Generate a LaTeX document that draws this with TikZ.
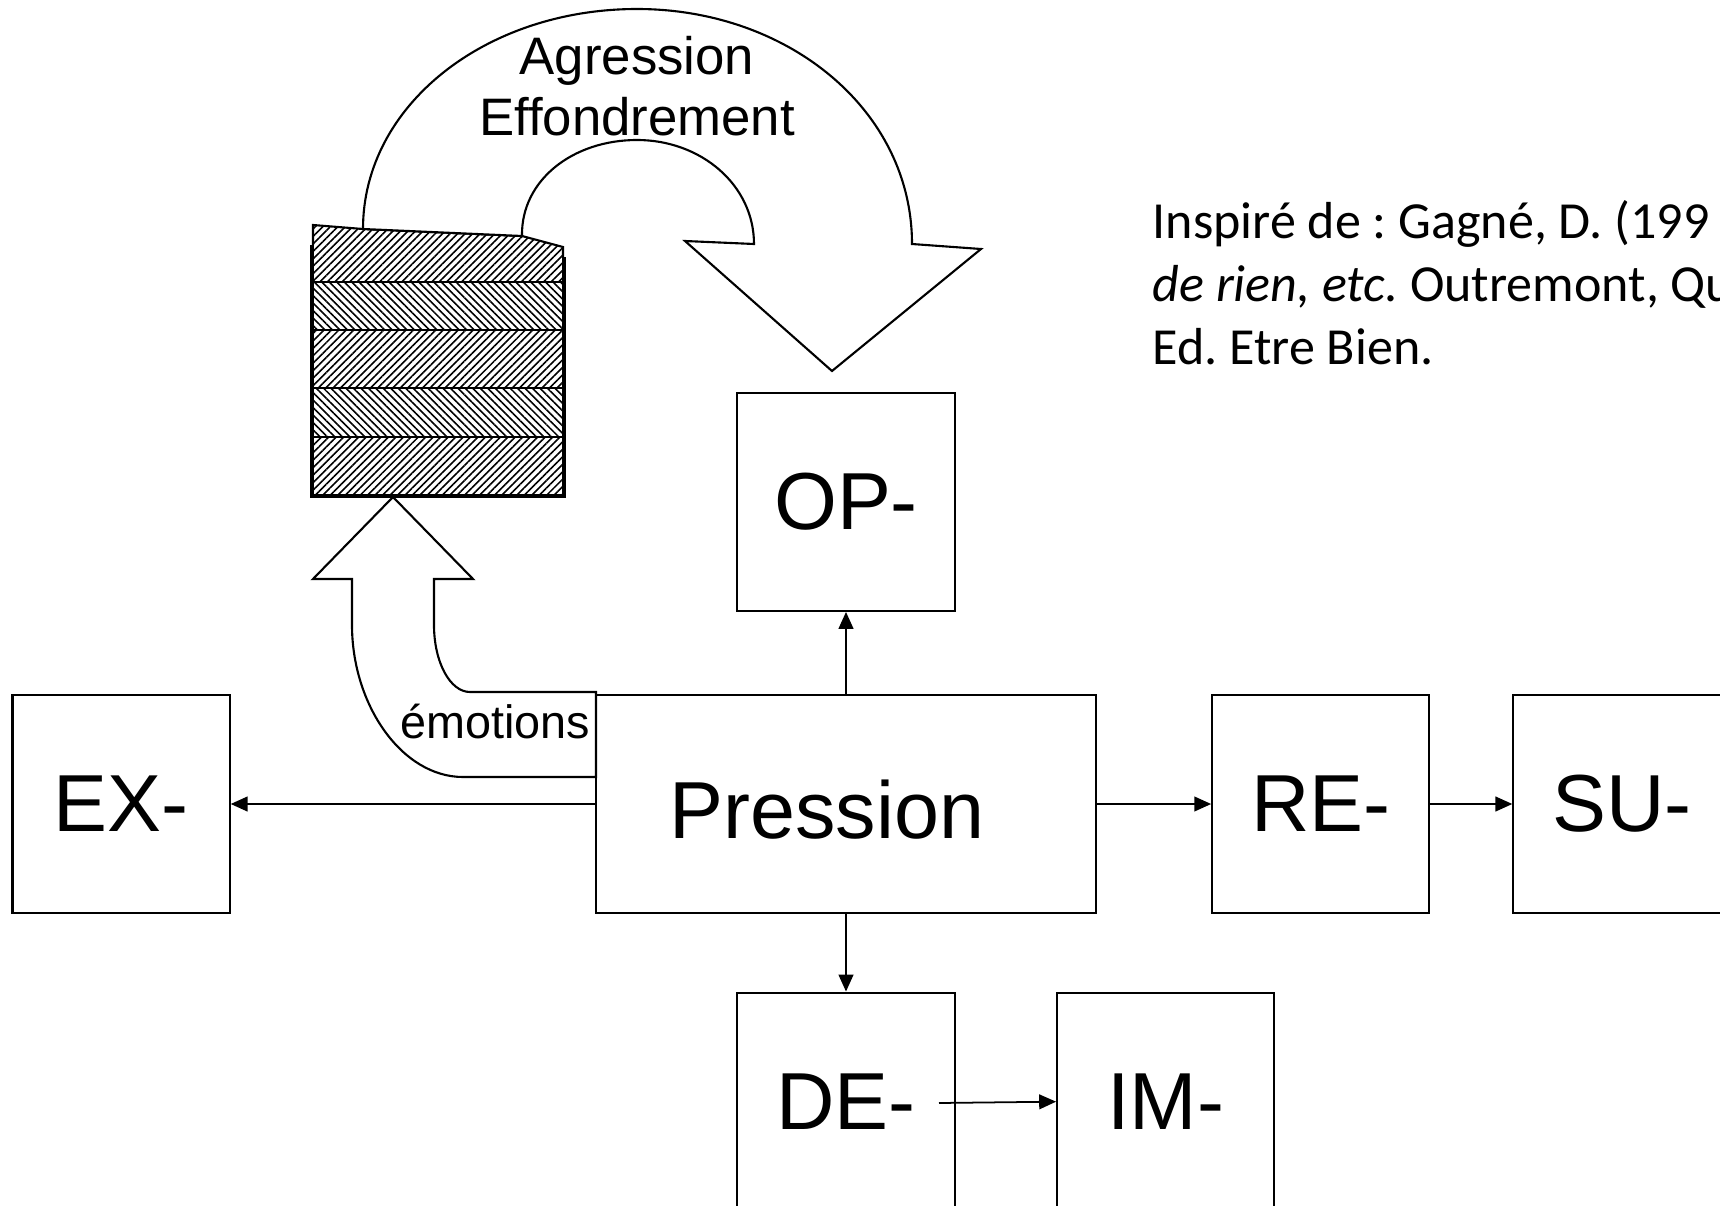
\documentclass[tikz,border=0pt]{standalone}
\usepackage{fontspec}
\setmainfont{Liberation Sans}
\newfontfamily\citefont{Carlito}
\usepackage{tikz}
\usetikzlibrary{arrows.meta,patterns.meta}
\frenchspacing
\tikzstyle{boxtext}=[font=\fontsize{23}{27}\selectfont]
\tikzstyle{boxnode}=[draw,%
                     rectangle,%
                     boxtext,%
                     line width     = 0.6pt,%
                     minimum width  = 2.17cm,%
                     minimum height = 2.18cm]
\tikzstyle{arrowline}=[line width=0.5pt,-{Triangle[length=4.8pt,width=4.2pt]}]
\tikzstyle{bigarrow}=[draw,fill=white,line width=0.6pt,line join=miter]
\tikzstyle{hatchne}=[pattern={Lines[angle=45,distance=1.5pt,line width=0.45pt]}]
\tikzstyle{hatchnw}=[pattern={Lines[angle=-45,distance=1.5pt,line width=0.45pt]}]

\begin{document}
\begin{tikzpicture}[x=0.01cm,y=-0.01cm]
            \path[use as bounding box,fill=white] (0,0) rectangle (1720,1206);
            \clip (0,0) rectangle (1720,1206);
            % boxes
            \node[boxnode,minimum width=5cm,%
                  label={[boxtext,xshift=-0.19cm,yshift=-0.06cm]center:Pression}] (pres) at (846,804) {};
            \node[boxnode][left of=pres,node distance=7.245cm]  (ex) {EX-};
            \node[boxnode][right of=pres,node distance=4.745cm] (re) {RE-};
            \node[boxnode][right of=re,node distance=3.01cm]    (su) {SU-};
            \node[boxnode][above of=pres,node distance=3.02cm]  (op) {OP-};
            \node[boxnode][below of=pres,node distance=2.975cm] (de) {DE-};
            \node[boxnode][right of=de,node distance=3.195cm]   (im) {IM-};
            \draw [arrowline] (pres.west) -- (ex.east);
            \draw [arrowline] (pres.east) -- (re.west);
            \draw [arrowline] (re.east) -- (su.west);
            \draw [arrowline] (pres.north) -- (op.south);
            \draw [arrowline] (pres.south) -- (de.north);
            \coordinate (dein) at (939,1103);
            \draw [arrowline] (dein) -- (im.west);
            % emotions arrow
            \draw[bigarrow] (596,777) -- (463,777) .. controls (402,777) and (352,705) .. (352,625)
                  -- (352,579) -- (313,579) -- (393,497) -- (473,579) -- (434,579) -- (434,625)
                  .. controls (434,662) and (450,692) .. (470,692) -- (596,692) -- cycle;
            \node[font=\fontsize{13.3}{16}\selectfont] (emo) at (495,722) {émotions};
            % stack of sheets
            \fill[hatchne] (313,225) -- (363,229) -- (522,236) -- (563,247) -- (563,282) -- (313,282) -- cycle;
            \fill[hatchnw] (313,282) rectangle (563,330);
            \fill[hatchne] (313,330) rectangle (563,388);
            \fill[hatchnw] (313,388) rectangle (563,437);
            \fill[hatchne] (313,437) rectangle (563,495);
            \draw[line width=0.6pt] (313,245) -- (313,225) -- (363,229) -- (522,236) -- (563,247) -- (563,257);
            \draw[line width=0.6pt] (313,282) -- (563,282) (313,330) -- (563,330)
                                    (313,388) -- (563,388) (313,437) -- (563,437);
            \draw[line width=1.3pt] (312,245) -- (312,496) -- (564,496) -- (564,257);
            % big U-turn arrow
            \draw[bigarrow] (363,229) .. controls (363,105) and (486,9) .. (637,9)
                  .. controls (788,9) and (912,110) .. (912,244) -- (981,249) -- (832,371)
                  -- (685,241) -- (754,244) .. controls (754,185) and (701,140) .. (637,140)
                  .. controls (573,140) and (521,180) .. (522,236) -- cycle;
            \node[font=\fontsize{15}{17.4}\selectfont,align=center] (aggr) at (637,86) {Agression\\Effondrement};
            % reference
            \node[anchor=north west,inner sep=0pt,align=left,%
                  font=\citefont\fontsize{14.8}{17.9}\selectfont] (cite) at (1152,200)
                  {Inspiré de : Gagné, D. (199\\\textit{de rien, etc.} Outremont, Qu\\Ed. Etre Bien.};
\end{tikzpicture}
\end{document}
